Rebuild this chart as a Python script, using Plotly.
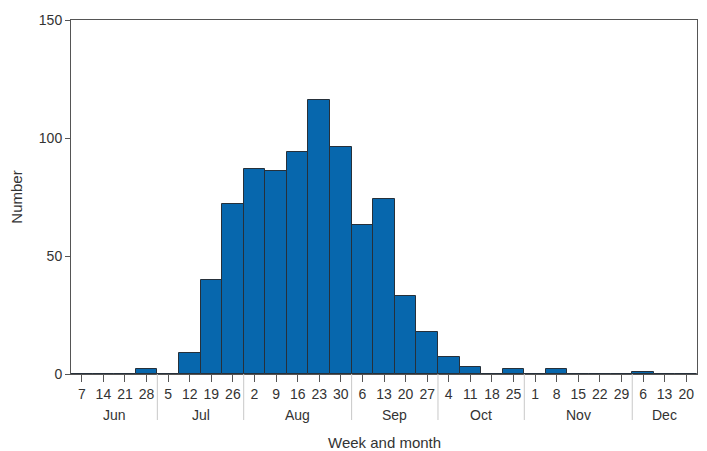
import plotly.graph_objects as go

weeks = ["7", "14", "21", "28", "5", "12", "19", "26", "2", "9", "16", "23", "30",
         "6", "13", "20", "27", "4", "11", "18", "25", "1", "8", "15", "22", "29",
         "6", "13", "20"]
months = ["Jun", "Jul", "Aug", "Sep", "Oct", "Nov", "Dec"]
weeks_per_month = [4, 4, 5, 4, 4, 5, 3]
counts = [0, 0, 0, 2, 0, 9, 40, 72, 87, 86, 94, 116, 96,
          63, 74, 33, 18, 7, 3, 0, 2, 0, 2, 0, 0, 0,
          1, 0, 0]

FONT = "Liberation Sans, Arial, sans-serif"
TXT = "#333333"
AX = "#555555"

xs = list(range(len(weeks)))

fig = go.Figure()
fig.add_trace(go.Bar(
    x=xs, y=counts,
    marker=dict(color="#0767ad", line=dict(color="#26303a", width=1)),
    width=1.0,
))

W, H = 707, 451
ml, mr, mt, mb = 71, 10, 20, 77
plot_h = H - mt - mb

shapes = []
annotations = []
start = 0
for i, (m, n) in enumerate(zip(months, weeks_per_month)):
    center = start + (n - 1) / 2
    annotations.append(dict(
        x=center, y=-41 / plot_h, xref="x", yref="paper",
        text=m, showarrow=False, font=dict(family=FONT, size=14, color=TXT),
        xanchor="center", yanchor="middle"))
    if i < len(months) - 1:
        b = start + n - 0.5
        shapes.append(dict(type="line", xref="x", yref="paper",
                           x0=b, x1=b, y0=0, y1=-46 / plot_h,
                           line=dict(color="#c8c8c8", width=1)))
    start += n

annotations.append(dict(
    x=0.5, y=-68 / plot_h, xref="paper", yref="paper",
    text="Week and month", showarrow=False,
    font=dict(family=FONT, size=15, color=TXT),
    xanchor="center", yanchor="middle"))

fig.update_layout(
    width=W, height=H,
    margin=dict(l=ml, r=mr, t=mt, b=mb),
    paper_bgcolor="white", plot_bgcolor="white",
    showlegend=False,
    bargap=0,
    font=dict(family=FONT, size=14, color=TXT),
    shapes=shapes,
    annotations=annotations,
    xaxis=dict(
        range=[-0.5, len(weeks) - 0.5],
        tickmode="array", tickvals=xs, ticktext=weeks,
        ticks="outside", ticklen=7, tickcolor=AX, tickwidth=1,
        showline=True, linecolor=AX, linewidth=1, mirror=True,
        showgrid=False, zeroline=False,
        tickfont=dict(family=FONT, size=14, color=TXT),
        fixedrange=True,
    ),
    yaxis=dict(
        range=[0, 150],
        tickvals=[0, 50, 100, 150],
        ticks="outside", ticklen=5, tickcolor=AX, tickwidth=1,
        showline=True, linecolor=AX, linewidth=1, mirror=True,
        showgrid=False, zeroline=False,
        tickfont=dict(family=FONT, size=14, color=TXT),
        title=dict(text="Number", font=dict(family=FONT, size=15, color=TXT), standoff=12),
    ),
)

fig.write_html("out.html", config={"displayModeBar": False},
               post_script="document.body.style.margin='0';document.body.style.overflow='hidden';")
